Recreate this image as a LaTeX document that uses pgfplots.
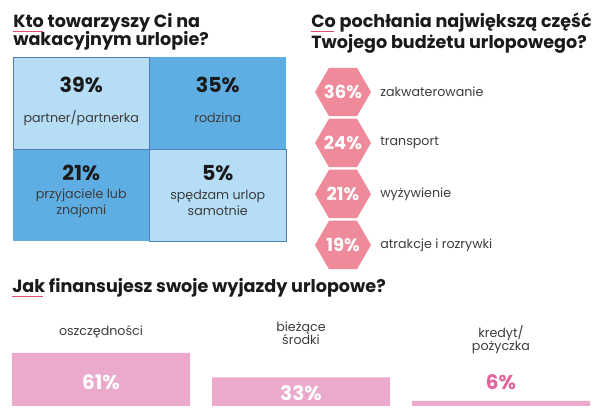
\documentclass[border=0pt]{standalone}
\usepackage{pgfplots}
\usepackage{pgfplotstable}
\pgfplotsset{compat=1.18}
\usepackage{fontspec}
\setmainfont{Poppins}
\definecolor{lblue}{HTML}{B5DDF5}
\definecolor{dblue}{HTML}{5EAEE3}
\definecolor{gborder}{HTML}{4F7FB5}
\definecolor{hexpink}{HTML}{EE8A9A}
\definecolor{barpink}{HTML}{EBA9CC}
\definecolor{txtpink}{HTML}{E0639E}
\definecolor{ink}{HTML}{1A1A1A}
\definecolor{squig}{HTML}{E0506E}
\pgfdeclareplotmark{hexagon}{%
  \pgfpathmoveto{\pgfqpoint{\pgfplotmarksize}{0pt}}%
  \pgfpathlineto{\pgfqpoint{0.5\pgfplotmarksize}{0.866\pgfplotmarksize}}%
  \pgfpathlineto{\pgfqpoint{-0.5\pgfplotmarksize}{0.866\pgfplotmarksize}}%
  \pgfpathlineto{\pgfqpoint{-\pgfplotmarksize}{0pt}}%
  \pgfpathlineto{\pgfqpoint{-0.5\pgfplotmarksize}{-0.866\pgfplotmarksize}}%
  \pgfpathlineto{\pgfqpoint{0.5\pgfplotmarksize}{-0.866\pgfplotmarksize}}%
  \pgfpathclose
  \pgfusepathqfill}
\pgfplotstableread{
x y v
0 1 36
0 2 24
0 3 21
0 4 19
}\hexdata
\pgfplotstableread{
x v
0 61
1 33
2 6
}\bardata
\begin{document}
\begin{tikzpicture}[x=0.75pt,y=-0.75pt]
\path (0,0) rectangle (600,420);
\coordinate (G) at (13,57);
\coordinate (H) at (343,66.5);
\coordinate (B) at (12,406);
% titles
\tikzset{ttl/.style={anchor=base west,inner sep=0pt,font=\bfseries\fontsize{13.2}{15}\selectfont,text=ink}}
\node[ttl] at (13,28) {Kto towarzyszy Ci na};
\node[ttl] at (13,46) {wakacyjnym urlopie?};
\node[ttl] at (311,28) {Co pochłania największą część};
\node[ttl] at (311,49) {Twojego budżetu urlopowego?};
\node[ttl] at (12,293) {Jak finansujesz swoje wyjazdy urlopowe?};
\draw[squig,line width=0.6pt] (13,31.5) -- (43,31.5);
\draw[squig,line width=0.6pt] (311,31.5) -- (334,31.5);
\draw[squig,line width=0.6pt] (12,296.5) -- (43,296.5);
% grid
\begin{axis}[at={(G)},anchor=north west,scale only axis,
  width=204.75pt,height=138pt,xmin=0,xmax=2,ymin=0,ymax=2,hide axis,clip=false]
\addplot[fill=dblue,draw=none] coordinates {(1,1)(2,1)(2,2)(1,2)} -- cycle;
\addplot[fill=dblue,draw=none] coordinates {(0,0)(1,0)(1,1)(0,1)} -- cycle;
\addplot[fill=lblue,draw=gborder,line width=0.6pt] coordinates {(0,1)(1,1)(1,2)(0,2)} -- cycle;
\addplot[fill=lblue,draw=gborder,line width=0.6pt] coordinates {(1,0)(2,0)(2,1)(1,1)} -- cycle;
\tikzset{pc/.style={font=\bfseries\fontsize{15.5}{17}\selectfont,text=ink},
  lb/.style={font=\fontsize{9.5}{12}\selectfont,text=ink!85,align=center}}
\node[pc] at (axis cs:0.5,1.696) {39\%};
\node[pc] at (axis cs:1.5,1.696) {35\%};
\node[pc] at (axis cs:0.5,0.739) {21\%};
\node[pc] at (axis cs:1.5,0.739) {5\%};
\node[lb] at (axis cs:0.5,1.337) {partner/partnerka};
\node[lb] at (axis cs:1.5,1.337) {rodzina};
\node[lb] at (axis cs:0.5,0.413) {przyjaciele lub\\znajomi};
\node[lb] at (axis cs:1.5,0.413) {spędzam urlop\\samotnie};
\end{axis}
% hexagons
\begin{axis}[at={(H)},anchor=north west,scale only axis,
  width=150pt,height=153pt,xmin=0,xmax=1,ymin=0.5,ymax=4.5,y dir=reverse,
  hide axis,clip=false,/pgf/number format/assume math mode=true]
\addplot[only marks,mark=hexagon,mark size=21pt,color=hexpink,
  point meta=explicit,
  nodes near coords={\pgfmathprintnumber{\pgfplotspointmeta}\%},
  every node near coord/.append style={anchor=center,text=white,
    font=\bfseries\fontsize{13.5}{15}\selectfont}]
  table[x=x,y=y,meta=v] {\hexdata};
\tikzset{hl/.style={anchor=west,inner sep=0pt,font=\fontsize{9.5}{12}\selectfont,text=ink!85}}
\node[hl] at (axis cs:0.185,1) {zakwaterowanie};
\node[hl] at (axis cs:0.185,2) {transport};
\node[hl] at (axis cs:0.185,3) {wyżywienie};
\node[hl] at (axis cs:0.185,4) {atrakcje i rozrywki};
\end{axis}
% bars
\begin{axis}[at={(B)},anchor=south west,scale only axis,
  width=433.5pt,height=39.75pt,xmin=-0.445,xmax=2.445,ymin=0,ymax=61,
  hide axis,clip=false,ybar,bar width=133.5pt]
\addplot[fill=barpink,draw=none,bar shift=0pt] table[x=x,y=v] {\bardata};
\tikzset{bv/.style={font=\bfseries\fontsize{15}{17}\selectfont},
  bl/.style={font=\fontsize{9.5}{9.5}\selectfont,text=ink!85,align=center}}
\node[bv,text=white] at (axis cs:0,28) {61\%};
\node[bv,text=white] at (axis cs:1,15) {33\%};
\node[bv,text=txtpink] at (axis cs:2,28) {6\%};
\node[bl] at (axis cs:0,85) {oszczędności};
\node[bl] at (axis cs:1,83.4) {bieżące\\środki};
\node[bl] at (axis cs:2,76.5) {kredyt/\\pożyczka};
\end{axis}
\end{tikzpicture}
\end{document}
